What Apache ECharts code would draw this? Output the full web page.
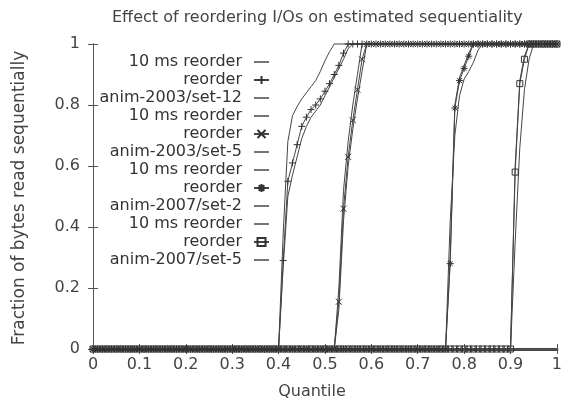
<!DOCTYPE html>
<html>
<head>
<meta charset="utf-8">
<script src="https://cdn.jsdelivr.net/npm/echarts@6/dist/echarts.min.js"></script>
<style>html,body{margin:0;padding:0;background:#fff}#c{width:565px;height:404px}</style>
</head>
<body>
<div id="c"></div>
<script>
// Shared quantile grid for the "reorder" series (which carry markers)
const quantiles = [
  0.00,0.01,0.02,0.03,0.04,0.05,0.06,0.07,0.08,0.09,
  0.10,0.11,0.12,0.13,0.14,0.15,0.16,0.17,0.18,0.19,
  0.20,0.21,0.22,0.23,0.24,0.25,0.26,0.27,0.28,0.29,
  0.30,0.31,0.32,0.33,0.34,0.35,0.36,0.37,0.38,0.39,
  0.40,0.41,0.42,0.43,0.44,0.45,0.46,0.47,0.48,0.49,
  0.50,0.51,0.52,0.53,0.54,0.55,0.56,0.57,0.58,0.59,
  0.60,0.61,0.62,0.63,0.64,0.65,0.66,0.67,0.68,0.69,
  0.70,0.71,0.72,0.73,0.74,0.75,0.76,0.77,0.78,0.79,
  0.80,0.81,0.82,0.83,0.84,0.85,0.86,0.87,0.88,0.89,
  0.90,0.91,0.92,0.93,0.94,0.95,0.96,0.97,0.98,0.99,
  1.00
];

// anim-2003/set-12, reorder (+)
const set12Reorder = [
  0,0,0,0,0,0,0,0,0,0,
  0,0,0,0,0,0,0,0,0,0,
  0,0,0,0,0,0,0,0,0,0,
  0,0,0,0,0,0,0,0,0,0,
  0,0.29,0.55,0.61,0.67,0.73,0.76,0.785,0.80,0.82,
  0.845,0.87,0.90,0.93,0.97,1,1,1,1,1,
  1,1,1,1,1,1,1,1,1,1,
  1,1,1,1,1,1,1,1,1,1,
  1,1,1,1,1,1,1,1,1,1,
  1,1,1,1,1,1,1,1,1,1,
  1
];
// anim-2003/set-5, reorder (x)
const set5a2003Reorder = [
  0,0,0,0,0,0,0,0,0,0,
  0,0,0,0,0,0,0,0,0,0,
  0,0,0,0,0,0,0,0,0,0,
  0,0,0,0,0,0,0,0,0,0,
  0,0,0,0,0,0,0,0,0,0,
  0,0,0,0.155,0.46,0.63,0.75,0.85,0.95,1,
  1,1,1,1,1,1,1,1,1,1,
  1,1,1,1,1,1,1,1,1,1,
  1,1,1,1,1,1,1,1,1,1,
  1,1,1,1,1,1,1,1,1,1,
  1
];
// anim-2007/set-2, reorder (*)
const set2b2007Reorder = [
  0,0,0,0,0,0,0,0,0,0,
  0,0,0,0,0,0,0,0,0,0,
  0,0,0,0,0,0,0,0,0,0,
  0,0,0,0,0,0,0,0,0,0,
  0,0,0,0,0,0,0,0,0,0,
  0,0,0,0,0,0,0,0,0,0,
  0,0,0,0,0,0,0,0,0,0,
  0,0,0,0,0,0,0,0.28,0.79,0.88,
  0.92,0.96,1,1,1,1,1,1,1,1,
  1,1,1,1,1,1,1,1,1,1,
  1
];
// anim-2007/set-5, reorder (square)
const set5b2007Reorder = [
  0,0,0,0,0,0,0,0,0,0,
  0,0,0,0,0,0,0,0,0,0,
  0,0,0,0,0,0,0,0,0,0,
  0,0,0,0,0,0,0,0,0,0,
  0,0,0,0,0,0,0,0,0,0,
  0,0,0,0,0,0,0,0,0,0,
  0,0,0,0,0,0,0,0,0,0,
  0,0,0,0,0,0,0,0,0,0,
  0,0,0,0,0,0,0,0,0,0,
  0,0.58,0.87,0.95,1,1,1,1,1,1,
  1
];

// Line-only series: [quantile, fraction]
const set12Ms10 = [[0,0],[0.40,0],[0.41,0.38],[0.42,0.68],[0.43,0.765],[0.44,0.795],[0.45,0.82],[0.46,0.84],[0.47,0.86],[0.48,0.88],[0.49,0.91],[0.50,0.945],[0.51,0.975],[0.52,1],[1,1]];
const set12Base = [[0,0],[0.40,0],[0.41,0.27],[0.42,0.50],[0.43,0.57],[0.44,0.63],[0.45,0.69],[0.46,0.73],[0.47,0.76],[0.48,0.78],[0.49,0.80],[0.50,0.83],[0.51,0.86],[0.52,0.89],[0.53,0.92],[0.54,0.95],[0.55,0.985],[0.56,1],[1,1]];
const set5a2003Ms10 = [[0,0],[0.52,0],[0.53,0.20],[0.54,0.52],[0.55,0.68],[0.56,0.80],[0.57,0.90],[0.58,1],[1,1]];
const set5a2003Base = [[0,0],[0.52,0],[0.53,0.13],[0.54,0.42],[0.55,0.60],[0.56,0.72],[0.57,0.82],[0.58,0.91],[0.59,1],[1,1]];
const set2b2007Ms10 = [[0,0],[0.76,0],[0.77,0.30],[0.78,0.80],[0.79,0.89],[0.80,0.93],[0.81,0.97],[0.82,1],[1,1]];
const set2b2007Base = [[0,0],[0.76,0],[0.77,0.42],[0.78,0.70],[0.79,0.83],[0.80,0.885],[0.81,0.91],[0.82,0.94],[0.83,0.98],[0.84,1],[1,1]];
const set5b2007Ms10 = [[0,0],[0.90,0],[0.91,0.60],[0.92,0.88],[0.93,0.96],[0.94,1],[1,1]];
const set5b2007Base = [[0,0],[0.90,0],[0.91,0.35],[0.92,0.66],[0.93,0.85],[0.94,0.95],[0.95,1],[1,1]];

const legendLabels = ['10 ms reorder','reorder','anim-2003/set-12','10 ms reorder','reorder','anim-2003/set-5','10 ms reorder','reorder','anim-2007/set-2','10 ms reorder','reorder','anim-2007/set-5'];
const xTicks = [0,0.1,0.2,0.3,0.4,0.5,0.6,0.7,0.8,0.9,1];
const yTicks = [0,0.2,0.4,0.6,0.8,1];

const FONT = 'DejaVu Sans';
const LINE = '#454545';
const MARK = '#333';
const SYM = {
  plus: 'path://M0,5L10,5M5,0L5,10',
  cross: 'path://M0,0L10,10M0,10L10,0',
  star: 'path://M0,5L10,5M5,0L5,10M1.5,1.5L8.5,8.5M1.5,8.5L8.5,1.5',
  box: 'path://M0,0L10,0L10,10L0,10Z'
};
const LINE_ICON = 'path://M0,0L15,0L15,1.4L0,1.4Z';
const ids = ['s1','s2','s3','s4','s5','s6','s7','s8','s9','s10','s11','s12'];
const hasMarks = [false,true,false,false,true,false,false,true,false,false,true,false];

function lineOnly(id, data) {
  return { name: id, type: 'line', data: data, symbol: 'none', clip: false,
    lineStyle: { color: LINE, width: 1 }, itemStyle: { color: '#3a3a3a' },
    emphasis: { disabled: true }, silent: true, animation: false };
}
function withMarks(id, ys, sym, size) {
  return { name: id, type: 'line', data: quantiles.map((q, i) => [q, ys[i]]),
    symbol: sym, symbolSize: size, showSymbol: true, clip: false,
    lineStyle: { color: LINE, width: 1 },
    itemStyle: { color: 'rgba(0,0,0,0)', borderColor: MARK, borderWidth: 1 },
    emphasis: { disabled: true }, silent: true, animation: false };
}

const series = [
  lineOnly(ids[0], set12Ms10),
  withMarks(ids[1], set12Reorder, SYM.plus, 7),
  lineOnly(ids[2], set12Base),
  lineOnly(ids[3], set5a2003Ms10),
  withMarks(ids[4], set5a2003Reorder, SYM.cross, 6),
  lineOnly(ids[5], set5a2003Base),
  lineOnly(ids[6], set2b2007Ms10),
  withMarks(ids[7], set2b2007Reorder, SYM.star, 7),
  lineOnly(ids[8], set2b2007Base),
  lineOnly(ids[9], set5b2007Ms10),
  withMarks(ids[10], set5b2007Reorder, SYM.box, 6),
  lineOnly(ids[11], set5b2007Base)
];

const axisCommon = {
  type: 'value', min: 0, max: 1,
  axisLine: { show: true, lineStyle: { color: '#555', width: 1 } },
  axisTick: { show: true, inside: true, length: 5, lineStyle: { color: '#555' } },
  splitLine: { show: false }
};

const chart = echarts.init(document.getElementById('c'), null, { renderer: 'canvas' });
chart.setOption({
  animation: false,
  backgroundColor: '#fff',
  grid: { left: 93, right: 6, top: 44, bottom: 55, containLabel: false },
  xAxis: [
    Object.assign({}, axisCommon, { position: 'bottom', interval: 0.1,
      axisLine: { show: true, lineStyle: { color: '#444', width: 3 } },
      axisLabel: { show: true, margin: 8, color: '#444', fontFamily: FONT, fontSize: 16,
        formatter: v => { const t = xTicks.find(x => Math.abs(x - v) < 1e-9); return t === undefined ? '' : String(t); } } }),
    Object.assign({}, axisCommon, { position: 'top', interval: 0.1, axisLabel: { show: false } })
  ],
  yAxis: [
    Object.assign({}, axisCommon, { position: 'left', interval: 0.2,
      axisLabel: { show: true, margin: 13, color: '#444', fontFamily: FONT, fontSize: 16,
        formatter: v => { const t = yTicks.find(x => Math.abs(x - v) < 1e-9); return t === undefined ? '' : String(t); } } }),
    Object.assign({}, axisCommon, { position: 'right', interval: 0.2, axisLabel: { show: false } })
  ],
  legend: {
    show: true, orient: 'vertical', align: 'right',
    right: 295, top: 53, padding: 0,
    itemWidth: 15, itemHeight: 10, itemGap: 0,
    selectedMode: false,
    data: ids.map((id, i) => hasMarks[i] ? { name: id } : { name: id, icon: LINE_ICON }),
    formatter: name => legendLabels[ids.indexOf(name)],
    textStyle: { color: '#333', fontFamily: FONT, fontSize: 16, lineHeight: 18, padding: [0, 7, 0, 0] }
  },
  graphic: [
    { type: 'text', left: 322 - 210, top: 10, silent: true,
      style: { text: 'Effect of reordering I/Os on estimated sequentiality', fill: '#444', font: '16px "DejaVu Sans"', width: 420, align: 'center' } },
    { type: 'text', silent: true, x: 312, y: 392,
      style: { text: 'Quantile', fill: '#444', font: '16px "DejaVu Sans"', align: 'center', verticalAlign: 'middle' } },
    { type: 'text', silent: true, x: 20, y: 198, rotation: Math.PI / 2,
      style: { text: 'Fraction of bytes read sequentially', fill: '#444', font: '17px "DejaVu Sans"', align: 'center', verticalAlign: 'middle' } }
  ],
  series: series
});
</script>
</body>
</html>
